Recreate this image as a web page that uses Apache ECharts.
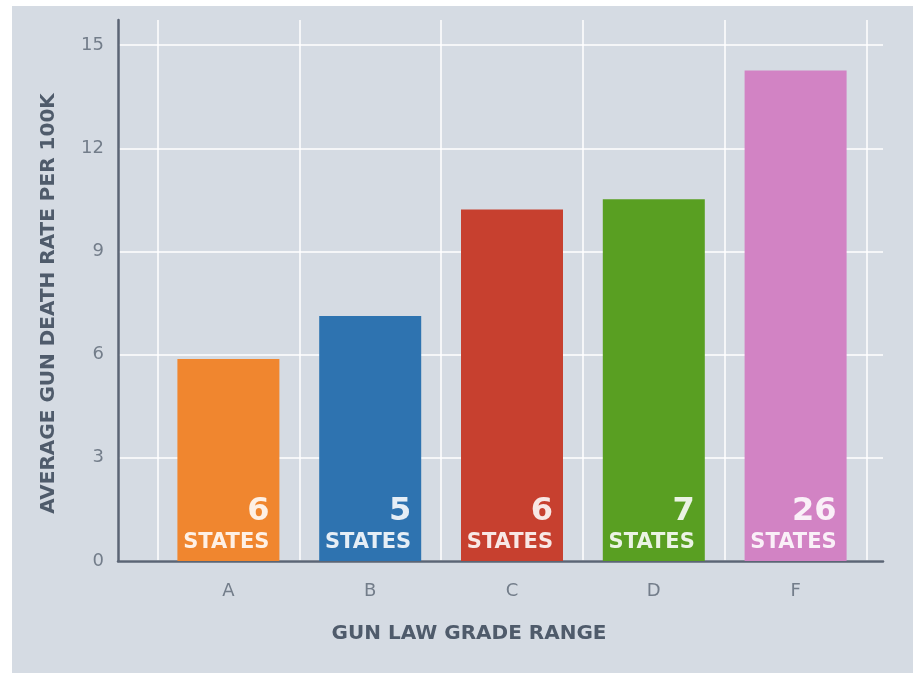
<!DOCTYPE html>
<html>
<head>
<meta charset="utf-8">
<script src="https://cdn.jsdelivr.net/npm/echarts@6/dist/echarts.min.js"></script>
<style>
  html, body { margin: 0; padding: 0; background: #ffffff; }
  #panel { position: absolute; left: 12px; top: 6px; width: 901px; height: 667px; background: #d5dbe3; }
  #chart { position: absolute; left: 0; top: 0; width: 913px; height: 675px; }
</style>
</head>
<body>
<div id="panel"></div>
<div id="chart"></div>
<script>
// ---- data ----
const categories = ['A', 'B', 'C', 'D', 'F'];
const deathRates = [5.87, 7.12, 10.22, 10.52, 14.26];
const stateCounts = [6, 5, 6, 7, 26];
const countUnit = 'STATES';
const yTitle = 'AVERAGE GUN DEATH RATE PER 100K';
const xTitle = 'GUN LAW GRADE RANGE';

// ---- styling ----
const barColors = ['#f0862f', '#2e73b0', '#c7402f', '#599f22', '#d283c4'];
const FONT = 'DejaVu Sans';
const TITLE_COLOR = '#4f5b6b';
const TICK_COLOR = '#737d8a';
const AXIS_COLOR = '#5b6575';
const GRID_LINE = 'rgba(255,255,255,0.75)';
const Y_MAX = 15.73;

const chart = echarts.init(document.getElementById('chart'), null, { renderer: 'canvas' });

chart.setOption({
  backgroundColor: 'transparent',
  animation: false,
  grid: [
    { left: 118, right: 30, top: 20, bottom: 114, containLabel: false },
    { left: 157.5, right: 46.5, top: 20, bottom: 114, containLabel: false }
  ],
  xAxis: [
    {
      gridIndex: 0,
      type: 'value',
      min: 0, max: 1,
      axisLine: { show: true, lineStyle: { color: AXIS_COLOR, width: 2.5 } },
      axisTick: { show: false },
      axisLabel: { show: false },
      splitLine: { show: false },
      name: xTitle,
      nameLocation: 'middle',
      nameGap: 63,
      nameTextStyle: {
        fontFamily: FONT, fontWeight: 'bold', fontSize: 20, color: TITLE_COLOR,
        padding: [0, 63, 0, 0]
      }
    },
    {
      gridIndex: 1,
      type: 'category',
      data: categories,
      boundaryGap: true,
      axisLine: { show: false },
      axisTick: { show: false },
      axisLabel: { fontFamily: FONT, fontSize: 18, color: TICK_COLOR, margin: 21 },
      splitLine: { show: true, lineStyle: { color: GRID_LINE, width: 2 } }
    }
  ],
  yAxis: [
    {
      gridIndex: 0,
      type: 'value',
      min: 0, max: Y_MAX, interval: 3,
      axisLine: { show: true, lineStyle: { color: AXIS_COLOR, width: 2.5 } },
      axisTick: { show: false },
      axisLabel: { fontFamily: FONT, fontSize: 18, color: TICK_COLOR, margin: 14, showMaxLabel: false },
      splitLine: { show: true, showMaxLine: false, lineStyle: { color: GRID_LINE, width: 2 } },
      name: yTitle,
      nameLocation: 'middle',
      nameGap: 59,
      nameTextStyle: {
        fontFamily: FONT, fontWeight: 'bold', fontSize: 20, color: TITLE_COLOR,
        padding: [0, 26, 0, 0]
      }
    },
    {
      gridIndex: 1,
      type: 'value',
      min: 0, max: Y_MAX, interval: 3,
      show: false
    }
  ],
  series: [
    {
      type: 'bar',
      xAxisIndex: 1,
      yAxisIndex: 1,
      barWidth: 102,
      data: deathRates.map((v, i) => ({ value: v, itemStyle: { color: barColors[i] } })),
      label: {
        show: true,
        position: 'insideBottomRight',
        distance: 7,
        align: 'right',
        padding: [0, 3, 0, 0],
        formatter: p => '{n|' + stateCounts[p.dataIndex] + '}\n{s|' + countUnit + '}',
        rich: {
          n: { fontFamily: FONT, fontWeight: 'bold', fontSize: 32, color: 'rgba(255,255,255,0.88)', lineHeight: 40, align: 'right' },
          s: { fontFamily: FONT, fontWeight: 'bold', fontSize: 21, color: 'rgba(255,255,255,0.88)', lineHeight: 22, align: 'right' }
        }
      }
    }
  ]
});
</script>
</body>
</html>
